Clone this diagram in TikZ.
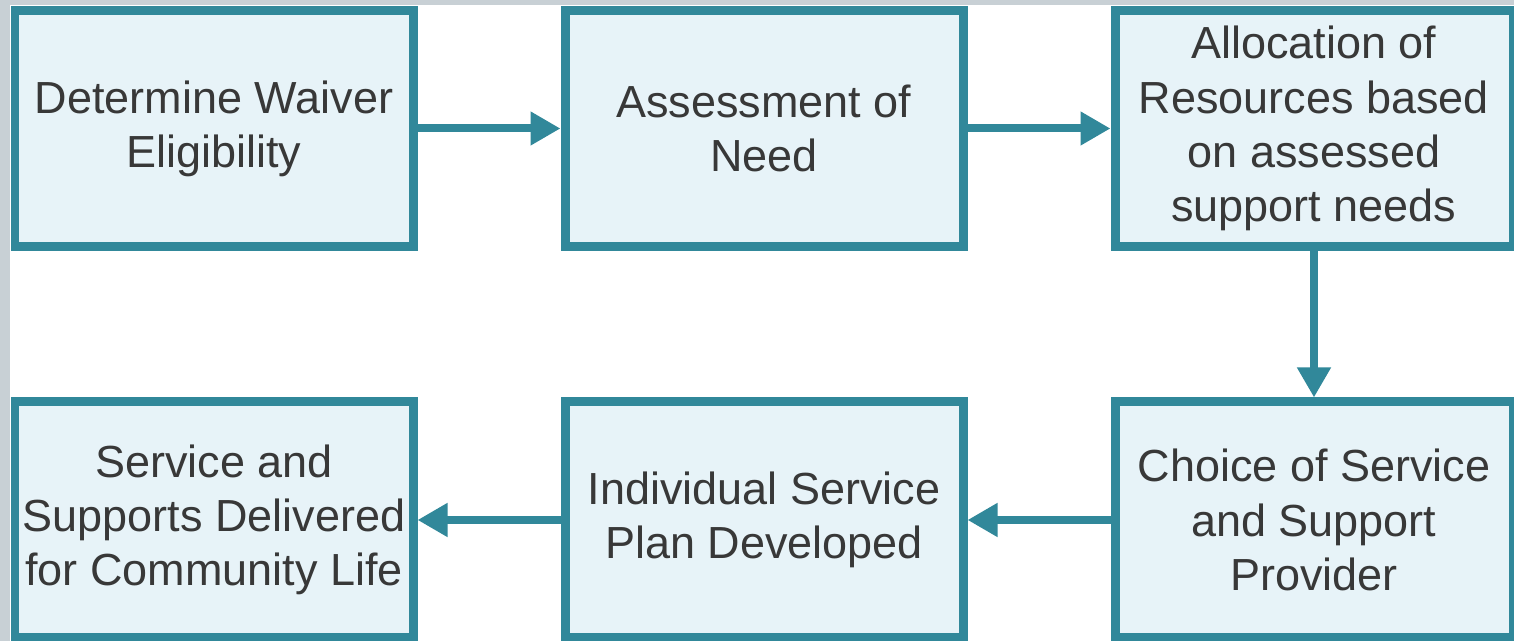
\documentclass[tikz,border=0pt]{standalone}
\usepackage{fontspec}
\setmainfont{Liberation Sans}
\usetikzlibrary{arrows.meta}

\definecolor{boxline}{HTML}{31889A}
\definecolor{boxfill}{HTML}{E7F3F8}
\definecolor{boxtext}{HTML}{383838}
\definecolor{edgegrey}{HTML}{C8D0D5}

\tikzset{
  stage/.style={draw=boxline, fill=boxfill, line width=0.09cm,
    minimum width=3.98cm, minimum height=2.36cm, inner sep=0pt,
    align=center, text=boxtext, font=\fontsize{12.8}{15.4}\selectfont},
  flow/.style={draw=boxline, line width=0.08cm,
    -{Triangle[length=0.30cm,width=0.32cm]}}
}

\begin{document}
\begin{tikzpicture}

    \useasboundingbox (0,0) rectangle (15.14,6.41);
    \fill [edgegrey] (0,0) rectangle (15.14,6.41);
    \fill [white] (0.10,0) rectangle (15.14,6.36);

    \node[stage] (a) at (2.14, 5.125) {Determine Waiver\\Eligibility};
    \node[stage] (b) at (7.64, 5.125) {Assessment of\\Need};
    \node[stage] (c) at (13.14, 5.125) {Allocation of\\Resources based\\on assessed\\support needs};
    \node[stage] (d) at (13.14, 1.21) {Choice of Service\\and Support\\Provider};
    \node[stage] (e) at (7.64, 1.21) {Individual Service\\Plan Developed};
    \node[stage] (f) at (2.14, 1.21) {Service and\\Supports Delivered\\for Community Life};

    \draw [flow] (a) -- (b);
    \draw [flow] (b) -- (c);
    \draw [flow] (c) -- (d);
    \draw [flow] (d) -- (e);
    \draw [flow] (e) -- (f);

\end{tikzpicture}
\end{document}
